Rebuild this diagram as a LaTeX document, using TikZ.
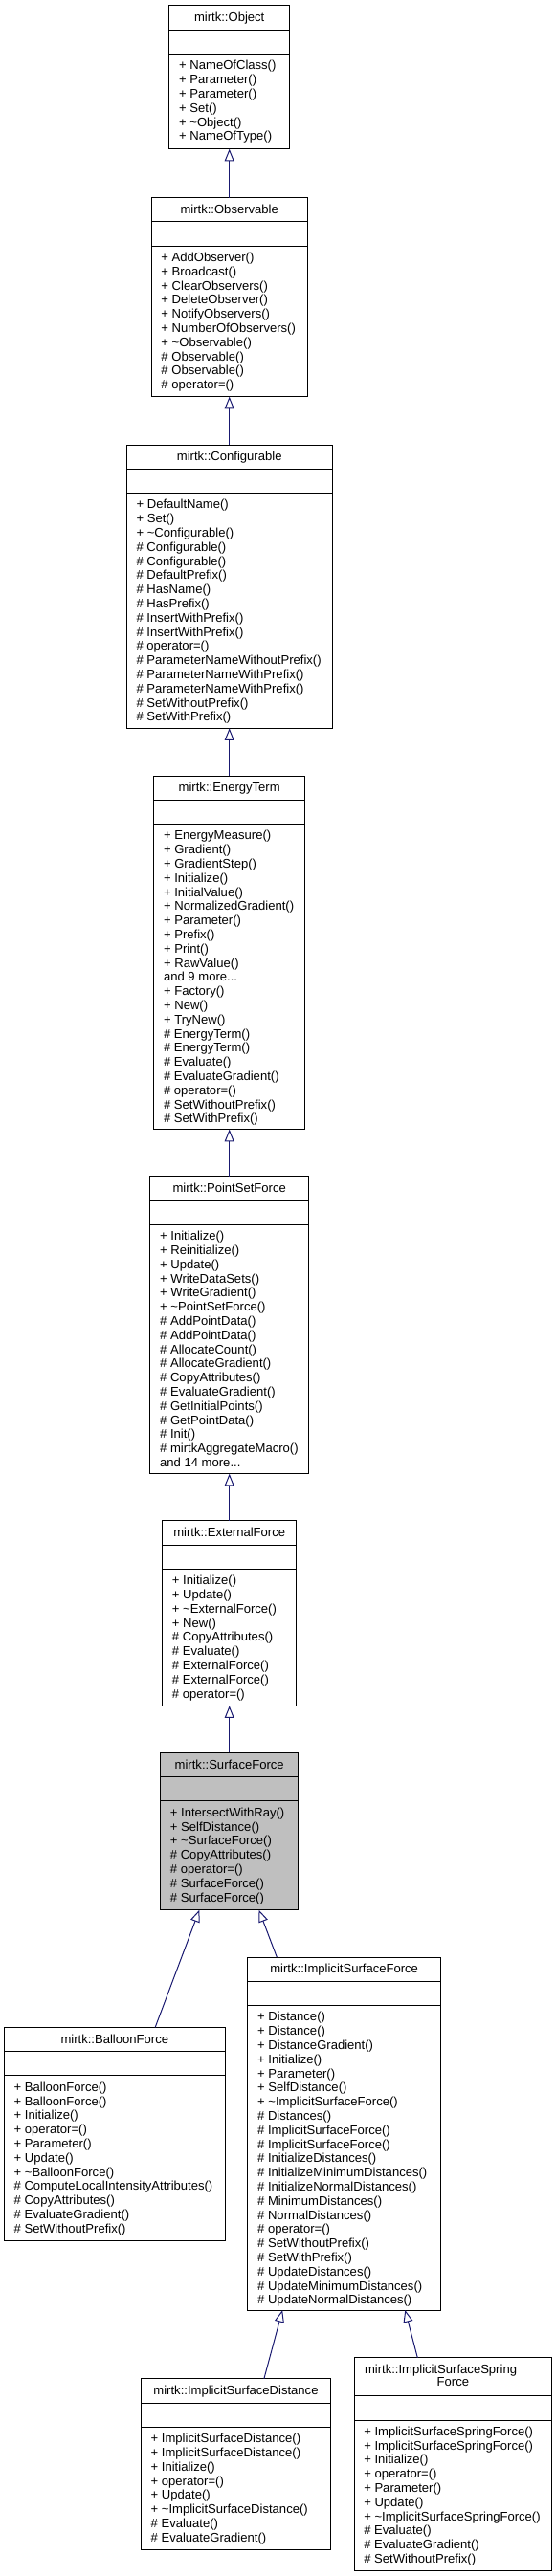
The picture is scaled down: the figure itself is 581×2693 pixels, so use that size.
\documentclass[tikz,border=0pt]{standalone}
\usepackage{fontspec}
\setmainfont{Liberation Sans}
\usetikzlibrary{positioning,calc,arrows.meta}
\definecolor{edgeblue}{RGB}{25,25,112}
\definecolor{curgray}{RGB}{191,191,191}
\newcommand{\pxu}{0.75pt}
\newcommand{\umlclass}[8][25.3]{%
\node[classbox,minimum width=#5*\pxu,minimum height=#6*\pxu,anchor=north] (#2) at (#3,#4) {};
\draw[sepline] ($(#2.north west)+(0,#1)$) -- ($(#2.north east)+(0,#1)$);
\draw[sepline] ($(#2.north west)+(0,#1+25.3)$) -- ($(#2.north east)+(0,#1+25.3)$);
\node[classtext,anchor=base] (#2-name) at ($(#2.north)+(0,16.7)$) {#7};
\node[classtext,anchor=base west] (#2-members) at ($(#2.north west)+(10,#1+41.6)$) {\begin{tabular}[t]{@{}l@{}}#8\end{tabular}};
}

\begin{document}
\begin{tikzpicture}[x=0.75pt,y=-0.75pt,
  classbox/.style={draw=black,line width=0.75pt,fill=white,inner sep=0pt,outer sep=0pt},
  sepline/.style={draw=black,line width=0.75pt},
  classtext/.style={inner sep=0pt,font=\fontsize{9.8}{11.1}\selectfont},
  inherit/.style={draw=edgeblue,line width=0.75pt,-{Triangle[open,length=9.5pt,width=7.5pt]}}]
\fill[white] (0,0) rectangle (581,2693);
\useasboundingbox (0,0) rectangle (581,2693);

\umlclass{object}{239.7}{6}{125.6}{149.7}{mirtk::Object}{+ NameOfClass()\\+ Parameter()\\+ Parameter()\\+ Set()\\+ \textasciitilde Object()\\+ NameOfType()}
\umlclass{observable}{239.7}{206.7}{163}{208}{mirtk::Observable}{+ AddObserver()\\+ Broadcast()\\+ ClearObservers()\\+ DeleteObserver()\\+ NotifyObservers()\\+ NumberOfObservers()\\+ \textasciitilde Observable()\\\# Observable()\\\# Observable()\\\# operator=()}
\umlclass{configurable}{239.7}{465}{214.8}{296.3}{mirtk::Configurable}{+ DefaultName()\\+ Set()\\+ \textasciitilde Configurable()\\\# Configurable()\\\# Configurable()\\\# DefaultPrefix()\\\# HasName()\\\# HasPrefix()\\\# InsertWithPrefix()\\\# InsertWithPrefix()\\\# operator=()\\\# ParameterNameWithoutPrefix()\\\# ParameterNameWithPrefix()\\\# ParameterNameWithPrefix()\\\# SetWithoutPrefix()\\\# SetWithPrefix()}
\umlclass{energyterm}{239.7}{811}{157.8}{369.7}{mirtk::EnergyTerm}{+ EnergyMeasure()\\+ Gradient()\\+ GradientStep()\\+ Initialize()\\+ InitialValue()\\+ NormalizedGradient()\\+ Parameter()\\+ Prefix()\\+ Print()\\+ RawValue()\\and 9 more...\\+ Factory()\\+ New()\\+ TryNew()\\\# EnergyTerm()\\\# EnergyTerm()\\\# Evaluate()\\\# EvaluateGradient()\\\# operator=()\\\# SetWithoutPrefix()\\\# SetWithPrefix()}
\umlclass{pointset}{239.7}{1229.7}{165.6}{311}{mirtk::PointSetForce}{+ Initialize()\\+ Reinitialize()\\+ Update()\\+ WriteDataSets()\\+ WriteGradient()\\+ \textasciitilde PointSetForce()\\\# AddPointData()\\\# AddPointData()\\\# AllocateCount()\\\# AllocateGradient()\\\# CopyAttributes()\\\# EvaluateGradient()\\\# GetInitialPoints()\\\# GetPointData()\\\# Init()\\\# mirtkAggregateMacro()\\and 14 more...}
\umlclass{external}{239.7}{1589.7}{140}{193.6}{mirtk::ExternalForce}{+ Initialize()\\+ Update()\\+ \textasciitilde ExternalForce()\\+ New()\\\# CopyAttributes()\\\# Evaluate()\\\# ExternalForce()\\\# ExternalForce()\\\# operator=()}
\begin{scope}[classbox/.append style={fill=curgray}]
\umlclass{surface}{239.7}{1832.3}{144.1}{164.4}{mirtk::SurfaceForce}{+ IntersectWithRay()\\+ SelfDistance()\\+ \textasciitilde SurfaceForce()\\\# CopyAttributes()\\\# operator=()\\\# SurfaceForce()\\\# SurfaceForce()}
\end{scope}
\umlclass{implicit}{359.65}{2046}{201.5}{369}{mirtk::ImplicitSurfaceForce}{+ Distance()\\+ Distance()\\+ DistanceGradient()\\+ Initialize()\\+ Parameter()\\+ SelfDistance()\\+ \textasciitilde ImplicitSurfaceForce()\\\# Distances()\\\# ImplicitSurfaceForce()\\\# ImplicitSurfaceForce()\\\# InitializeDistances()\\\# InitializeMinimumDistances()\\\# InitializeNormalDistances()\\\# MinimumDistances()\\\# NormalDistances()\\\# operator=()\\\# SetWithoutPrefix()\\\# SetWithPrefix()\\\# UpdateDistances()\\\# UpdateMinimumDistances()\\\# UpdateNormalDistances()}
\umlclass{balloon}{119.8}{2119.3}{230.8}{222.7}{mirtk::BalloonForce}{+ BalloonForce()\\+ BalloonForce()\\+ Initialize()\\+ operator=()\\+ Parameter()\\+ Update()\\+ \textasciitilde BalloonForce()\\\# ComputeLocalIntensityAttributes()\\\# CopyAttributes()\\\# EvaluateGradient()\\\# SetWithoutPrefix()}
\umlclass{distance}{246.5}{2486.7}{198.2}{178.6}{mirtk::ImplicitSurfaceDistance}{+ ImplicitSurfaceDistance()\\+ ImplicitSurfaceDistance()\\+ Initialize()\\+ operator=()\\+ Update()\\+ \textasciitilde ImplicitSurfaceDistance()\\\# Evaluate()\\\# EvaluateGradient()}
\umlclass[40]{spring}{473.35}{2464.7}{206.7}{222.3}{\begin{tabular}[t]{@{}l@{}}\makebox[138.5pt][l]{mirtk::ImplicitSurfaceSpring}\\[-1.1pt]\makebox[138.5pt]{Force}\end{tabular}}{+ ImplicitSurfaceSpringForce()\\+ ImplicitSurfaceSpringForce()\\+ Initialize()\\+ operator=()\\+ Parameter()\\+ Update()\\+ \textasciitilde ImplicitSurfaceSpringForce()\\\# Evaluate()\\\# EvaluateGradient()\\\# SetWithoutPrefix()}

\draw[inherit] (observable.north) -- (object.south);
\draw[inherit] (configurable.north) -- (observable.south);
\draw[inherit] (energyterm.north) -- (configurable.south);
\draw[inherit] (pointset.north) -- (energyterm.south);
\draw[inherit] (external.north) -- (pointset.south);
\draw[inherit] (surface.north) -- (external.south);
\draw[inherit] ($(balloon.north west)+(157.8,0)$) -- ($(surface.south west)+(40.7,0)$);
\draw[inherit] ($(implicit.north west)+(30.4,0)$) -- ($(surface.south west)+(102.9,0)$);
\draw[inherit] ($(distance.north west)+(128.5,0)$) -- ($(implicit.south west)+(36.3,0)$);
\draw[inherit] ($(spring.north west)+(66.3,0)$) -- ($(implicit.south west)+(164.4,0)$);
\end{tikzpicture}
\end{document}
